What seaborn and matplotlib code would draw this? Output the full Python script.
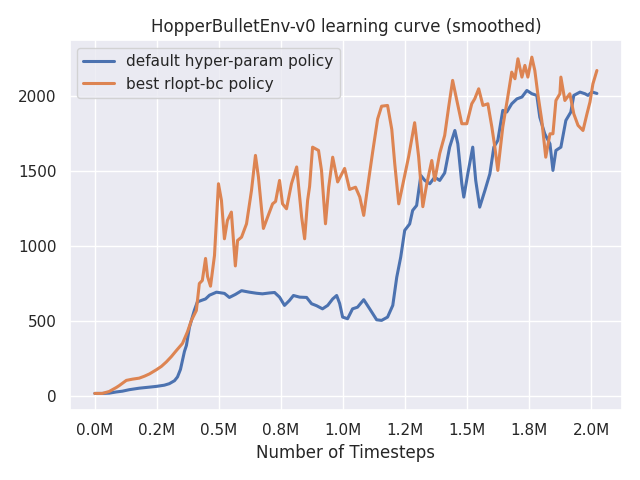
import seaborn as sns
import matplotlib
matplotlib.use('Agg')
import matplotlib.pyplot as plt
from matplotlib.ticker import MultipleLocator, FuncFormatter

# timesteps in millions, rewards
default_t = [0.0, 0.030, 0.058, 0.087, 0.111, 0.139, 0.179, 0.220, 0.248, 0.280,
             0.300, 0.321, 0.333, 0.345, 0.353, 0.361, 0.369, 0.381, 0.393, 0.401,
             0.413, 0.429, 0.446, 0.462, 0.490, 0.522, 0.542, 0.566, 0.591, 0.623,
             0.651, 0.675, 0.704, 0.724, 0.744, 0.764, 0.784, 0.800, 0.825, 0.853,
             0.873, 0.893, 0.917, 0.938, 0.958, 0.974, 0.986, 0.998, 1.018, 1.038,
             1.058, 1.083, 1.107, 1.135, 1.155, 1.179, 1.200, 1.216, 1.232, 1.248,
             1.268, 1.280, 1.296, 1.313, 1.329, 1.349, 1.369, 1.389, 1.409, 1.429,
             1.450, 1.462, 1.478, 1.486, 1.502, 1.522, 1.534, 1.550, 1.571, 1.591,
             1.607, 1.623, 1.643, 1.659, 1.679, 1.700, 1.720, 1.740, 1.760, 1.780,
             1.792, 1.812, 1.833, 1.845, 1.857, 1.877, 1.897, 1.917, 1.929, 1.954,
             1.974, 1.986, 2.002, 2.022]
default_r = [20, 20, 22, 30, 35, 45, 55, 62, 67, 75,
             85, 105, 130, 180, 240, 300, 340, 460, 530, 575,
             630, 640, 650, 675, 695, 687, 660, 680, 705, 695,
             688, 684, 690, 693, 662, 607, 640, 673, 662, 660,
             618, 605, 584, 607, 650, 673, 620, 529, 518, 584,
             595, 645, 584, 511, 507, 529, 607, 795, 929, 1107,
             1150, 1240, 1273, 1473, 1440, 1418, 1462, 1440, 1490, 1662,
             1773, 1684, 1418, 1329, 1484, 1662, 1440, 1262, 1373, 1484,
             1662, 1707, 1907, 1896, 1951, 1984, 1996, 2040, 2018, 2007,
             1862, 1751, 1684, 1507, 1640, 1662, 1840, 1896, 2007, 2029,
             2018, 2007, 2030, 2020]

best_t = [0.0, 0.030, 0.058, 0.087, 0.099, 0.127, 0.151, 0.179, 0.200, 0.220,
          0.248, 0.268, 0.288, 0.308, 0.329, 0.353, 0.373, 0.389, 0.409, 0.421,
          0.433, 0.446, 0.454, 0.466, 0.482, 0.498, 0.510, 0.522, 0.534, 0.550,
          0.566, 0.575, 0.591, 0.611, 0.631, 0.647, 0.659, 0.679, 0.696, 0.716,
          0.728, 0.744, 0.756, 0.772, 0.792, 0.813, 0.833, 0.845, 0.857, 0.865,
          0.877, 0.901, 0.913, 0.929, 0.942, 0.958, 0.978, 1.006, 1.026, 1.050,
          1.067, 1.083, 1.099, 1.119, 1.139, 1.155, 1.179, 1.196, 1.208, 1.224,
          1.240, 1.264, 1.288, 1.304, 1.321, 1.337, 1.357, 1.369, 1.389, 1.409,
          1.425, 1.441, 1.458, 1.478, 1.498, 1.518, 1.530, 1.546, 1.563, 1.583,
          1.599, 1.611, 1.623, 1.643, 1.663, 1.679, 1.692, 1.704, 1.720, 1.732,
          1.744, 1.760, 1.772, 1.784, 1.800, 1.816, 1.833, 1.845, 1.857, 1.873,
          1.877, 1.893, 1.913, 1.929, 1.946, 1.966, 1.982, 1.994, 2.006, 2.022]
best_r = [20, 20, 33, 60, 73, 107, 115, 122, 135, 150,
          178, 200, 230, 265, 307, 353, 430, 507, 573, 753,
          773, 920, 800, 735, 940, 1418, 1307, 1051, 1173, 1229,
          870, 1040, 1062, 1151, 1373, 1607, 1462, 1120, 1196, 1284,
          1300, 1440, 1284, 1251, 1418, 1530, 1196, 1051, 1307, 1400,
          1662, 1640, 1507, 1151, 1395, 1595, 1430, 1520, 1380, 1395,
          1330, 1207, 1400, 1630, 1850, 1935, 1940, 1780, 1550, 1284,
          1410, 1600, 1825, 1600, 1265, 1418, 1573, 1440, 1620, 1740,
          1929, 2107, 1973, 1818, 1818, 1951, 1984, 2051, 1940, 1951,
          1796, 1662, 1507, 1796, 1996, 2162, 2118, 2251, 2129, 2207,
          2129, 2262, 2173, 2018, 1840, 1595, 1751, 1751, 1973, 2018,
          2129, 1973, 2018, 1884, 1807, 1773, 1884, 1962, 2084, 2173]

labels = ['default hyper-param policy', 'best rlopt-bc policy']

sns.set_theme(style='darkgrid')
fig, ax = plt.subplots(figsize=(6.4, 4.8), dpi=100)

sns.lineplot(x=[t * 1e6 for t in default_t], y=default_r, ax=ax,
             label=labels[0], linewidth=2.2, estimator=None)
sns.lineplot(x=[t * 1e6 for t in best_t], y=best_r, ax=ax,
             label=labels[1], linewidth=2.2, estimator=None)

ax.xaxis.set_major_locator(MultipleLocator(250000))
ax.xaxis.set_major_formatter(FuncFormatter(lambda x, pos: '{:.1f}M'.format(x / 1e6)))
ax.set_xlabel('Number of Timesteps')
ax.set_title('HopperBulletEnv-v0 learning curve (smoothed)')
ax.legend(loc='upper left')
fig.tight_layout()
fig.savefig('out.png')
